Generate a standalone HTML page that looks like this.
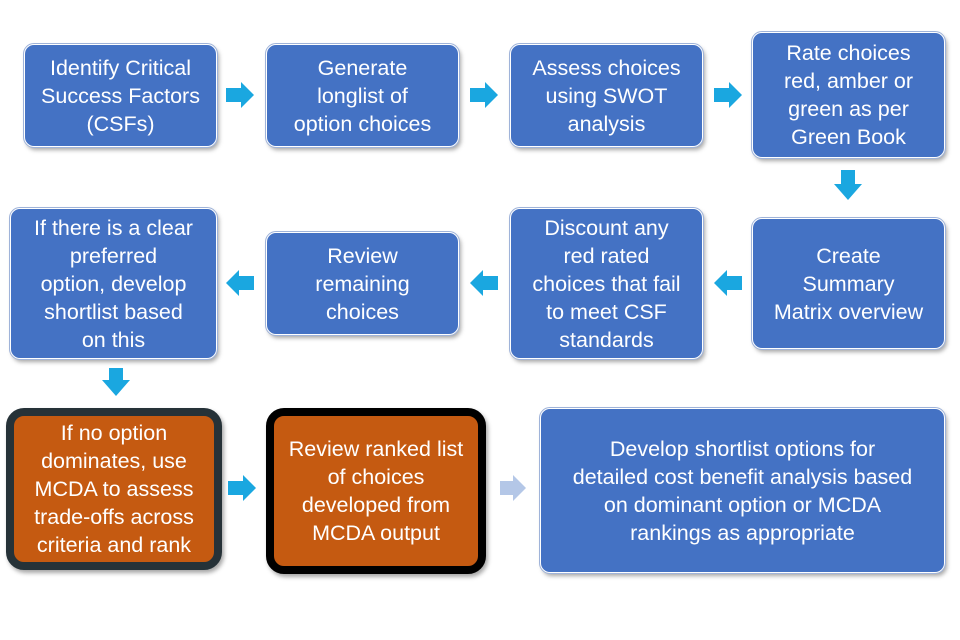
<!DOCTYPE html>
<html><head><style>
body{margin:0;width:960px;height:640px;background:#fff;position:relative;overflow:hidden;font-family:"Liberation Sans",sans-serif}
.b{position:absolute;background:#4472C4;border:1.5px solid #fff;border-radius:10px;box-shadow:2px 3px 4px rgba(0,0,0,.35);color:#fff;font-size:21.5px;line-height:28px;text-align:center;display:flex;align-items:center;justify-content:center;box-sizing:border-box;outline:1px solid #9fb3d9;white-space:nowrap}
.o{background:#C55A11;outline:none;border-radius:18px}
svg{position:absolute;left:0;top:0}
</style></head><body>
<div class="b" style="left:24px;top:44px;width:193px;height:103px">Identify Critical<br>Success Factors<br>(CSFs)</div>
<div class="b" style="left:266px;top:44px;width:193px;height:103px">Generate<br>longlist of<br>option choices</div>
<div class="b" style="left:510px;top:44px;width:193px;height:103px">Assess choices<br>using SWOT<br>analysis</div>
<div class="b" style="left:752px;top:32px;width:193px;height:126px">Rate choices<br>red, amber or<br>green as per<br>Green Book</div>
<div class="b" style="left:752px;top:218px;width:193px;height:131px">Create<br>Summary<br>Matrix overview</div>
<div class="b" style="left:510px;top:208px;width:193px;height:151px">Discount any<br>red rated<br>choices that fail<br>to meet CSF<br>standards</div>
<div class="b" style="left:266px;top:232px;width:193px;height:103px">Review<br>remaining<br>choices</div>
<div class="b" style="left:10px;top:208px;width:207px;height:151px">If there is a clear<br>preferred<br>option, develop<br>shortlist based<br>on this</div>
<div class="b o" style="left:6px;top:408px;width:216px;height:162px;border:8px solid #263238">If no option<br>dominates, use<br>MCDA to assess<br>trade-offs across<br>criteria and rank</div>
<div class="b o" style="left:266px;top:408px;width:220px;height:166px;border:8px solid #000">Review ranked list<br>of choices<br>developed from<br>MCDA output</div>
<div class="b" style="left:540px;top:408px;width:405px;height:165px">Develop shortlist options for<br>detailed cost benefit analysis based<br>on dominant option or MCDA<br>rankings as appropriate</div>
<svg width="960" height="640">
<g fill="#1AA7E0">
<polygon points="226,88 241,88 241,82 254,95 241,108 241,102 226,102"/>
<polygon points="470,88 485,88 485,82 498,95 485,108 485,102 470,102"/>
<polygon points="714,88 729,88 729,82 742,95 729,108 729,102 714,102"/>
<polygon points="841,170 855,170 855,184 862,184 848,200 834,184 841,184"/>
<polygon points="742,276 727,276 727,270 714,283 727,296 727,290 742,290"/>
<polygon points="498,276 483,276 483,270 470,283 483,296 483,290 498,290"/>
<polygon points="254,276 239,276 239,270 226,283 239,296 239,290 254,290"/>
<polygon points="109,368 123,368 123,380 130,380 116,396 102,380 109,380"/>
<polygon points="228,481 243,481 243,475 256,488 243,501 243,495 228,495"/>
</g>
<polygon fill="#B4C7E7" points="500,481 513,481 513,475 526,488 513,501 513,495 500,495"/>
</svg>
</body></html>
